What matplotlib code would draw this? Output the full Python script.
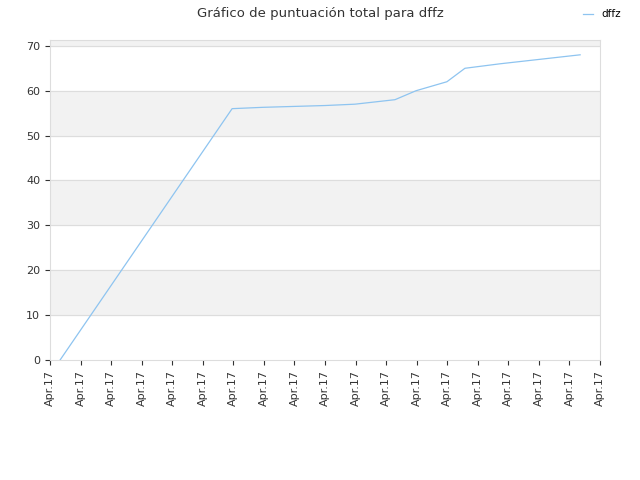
import matplotlib
matplotlib.use("Agg")
import matplotlib.pyplot as plt

x_vals = [0.33, 5.96, 6.97, 7.99, 9.00, 9.98, 11.29, 11.98, 12.99, 13.58, 14.73, 16.04, 17.35]
y_vals = [0, 56, 56.3, 56.5, 56.7, 57, 58, 60, 62, 65, 66, 67, 68]
tick_labels = ["Apr.17"] * 19

fig = plt.figure(figsize=(6.4, 4.8), dpi=100)
ax = fig.add_axes([50/640, 1-360/480, 550/640, 320/480])
ax.set_xlim(0, 18)
ax.set_ylim(0, 71.3)
for lo in (10, 30, 50, 70):
    ax.axhspan(lo, lo + 10, color="#f2f2f2", zorder=0)
for y in range(10, 71, 10):
    ax.axhline(y, color="#dddddd", lw=0.8, zorder=1)
ax.plot(x_vals, y_vals, color="#8ec4f0", lw=0.9, label="dffz", zorder=3)
ax.set_xticks(range(19))
ax.set_xticklabels(tick_labels, rotation=90, fontsize=8, color="#333333")
ax.set_yticks(range(0, 71, 10))
ax.tick_params(axis="y", labelsize=8, colors="#333333")
ax.tick_params(axis="x", colors="#333333")
for s in ax.spines.values():
    s.set_color("#dddddd")
fig.suptitle("Gráfico de puntuación total para dffz", fontsize=9.5, color="#333333", y=0.985)
fig.legend(loc="upper right", bbox_to_anchor=(0.985, 1.0), frameon=False, fontsize=7.5, handlelength=1)
fig.savefig("out.png")
